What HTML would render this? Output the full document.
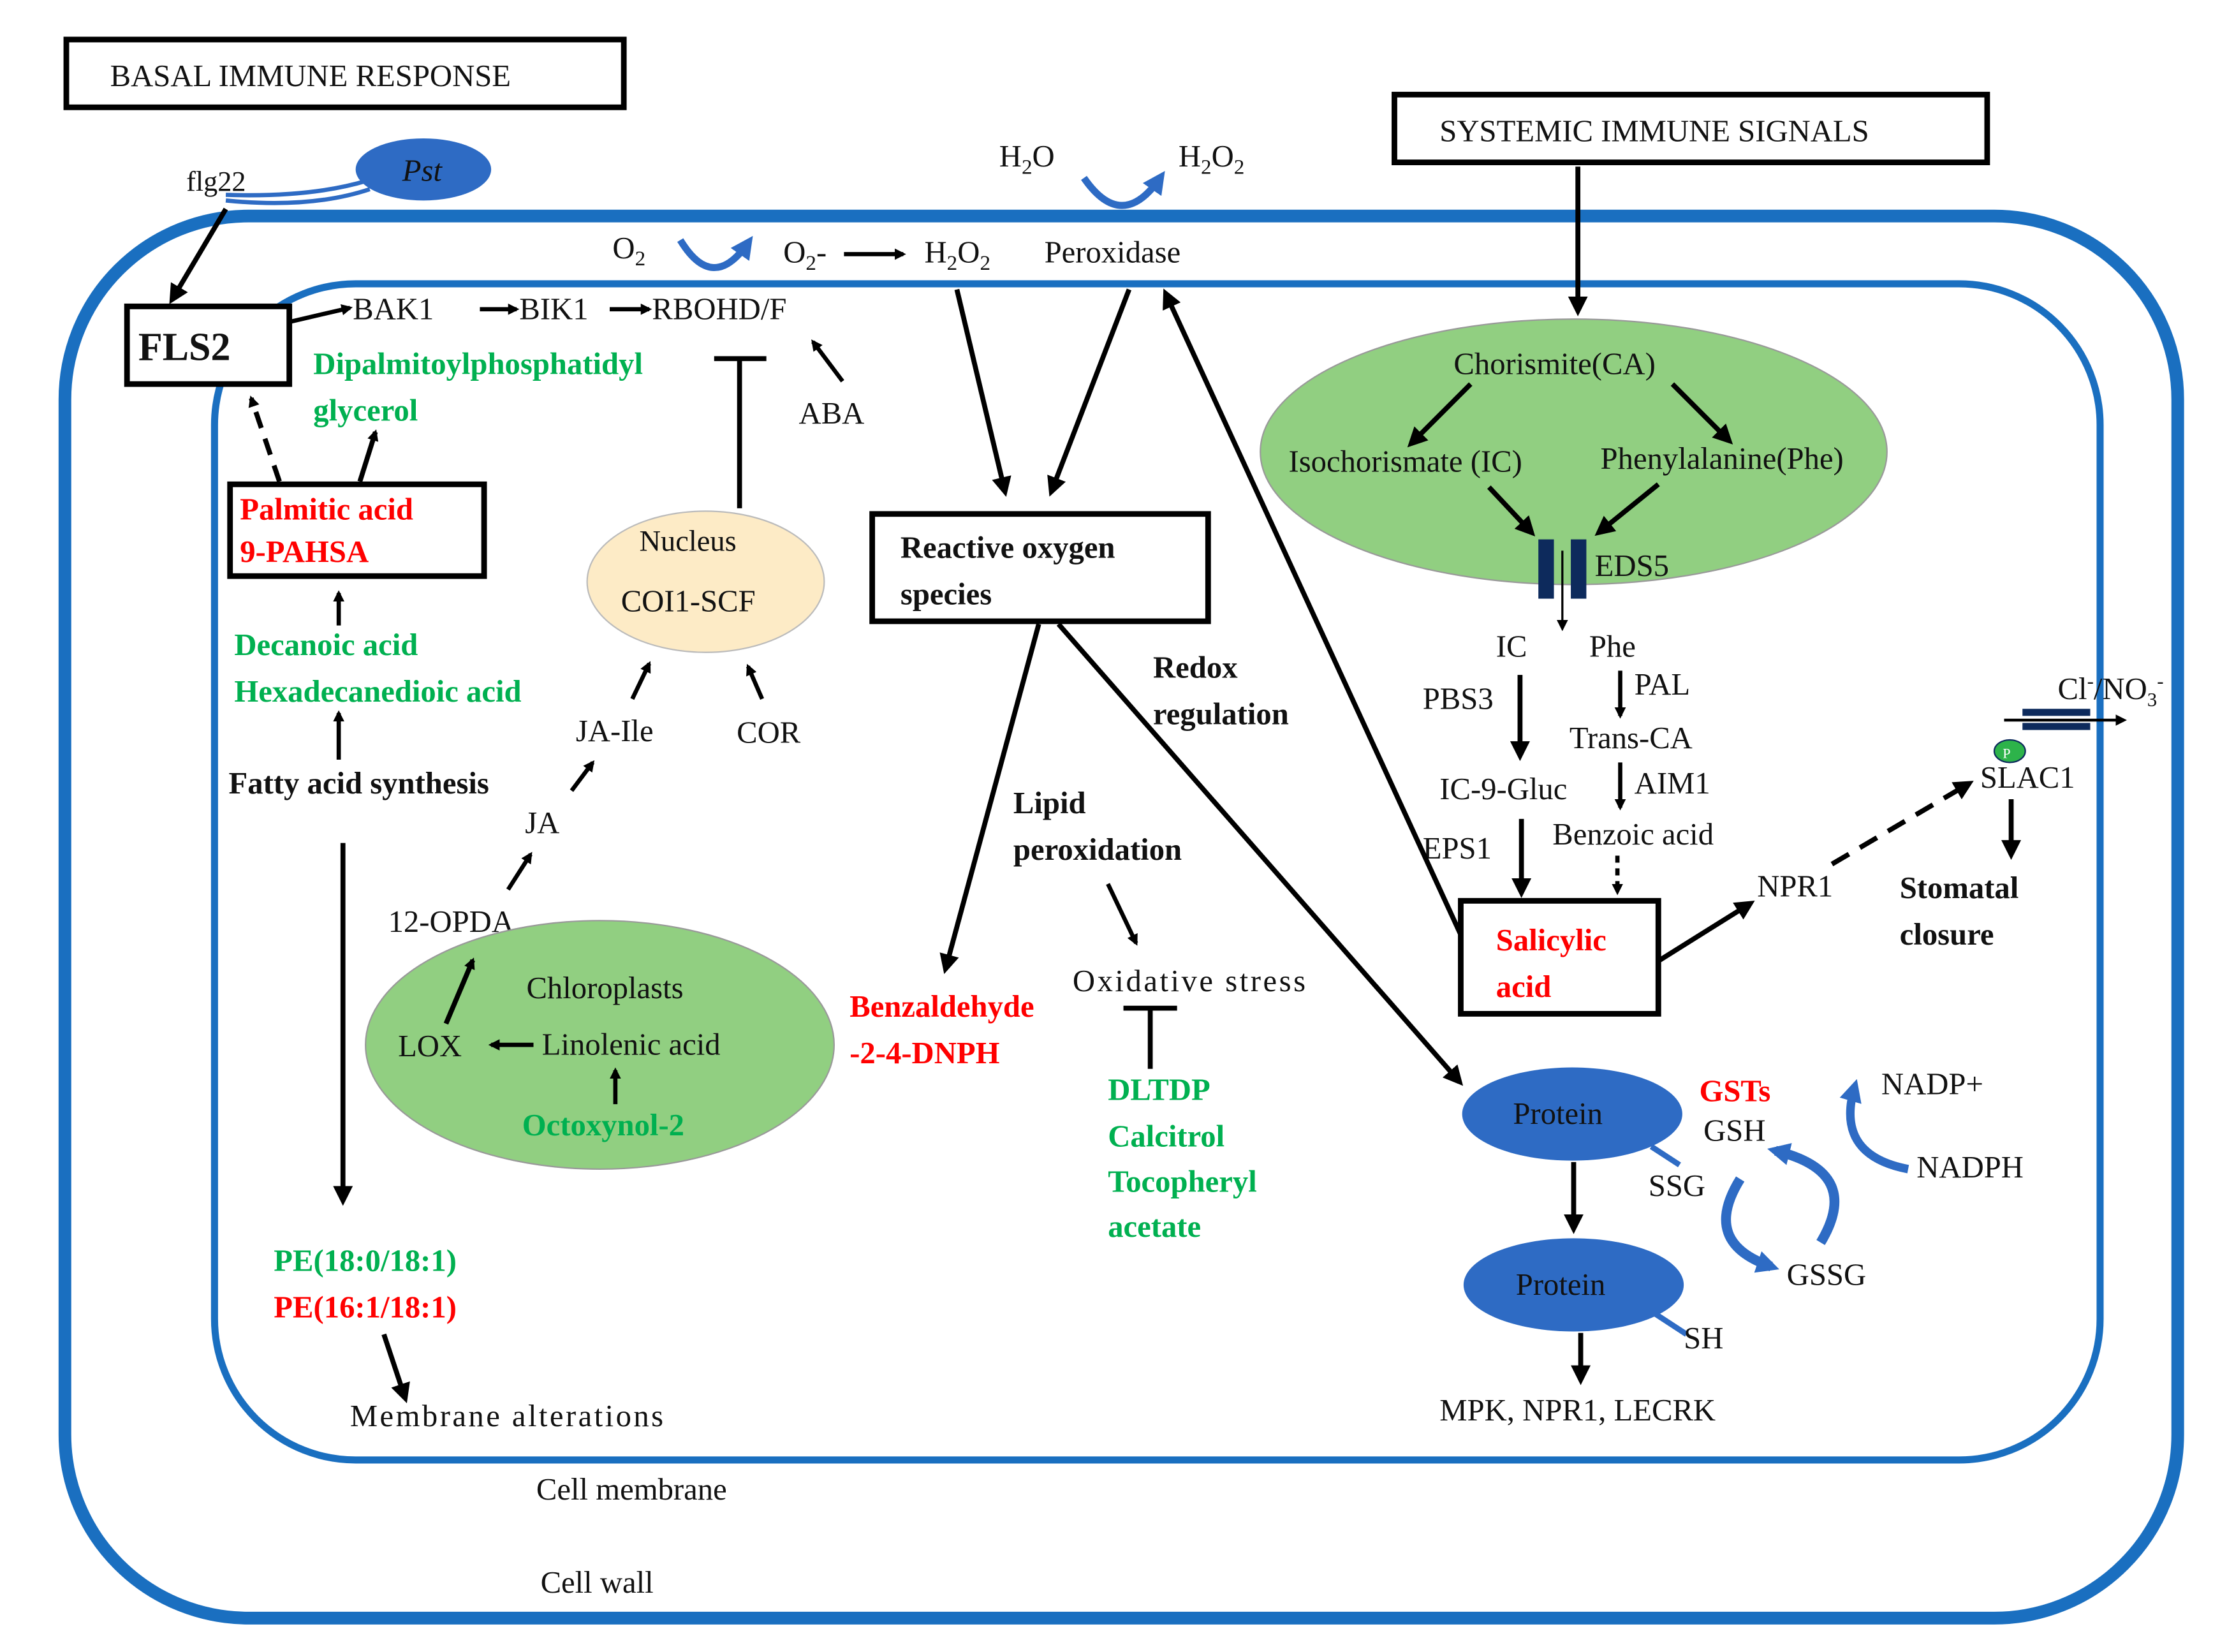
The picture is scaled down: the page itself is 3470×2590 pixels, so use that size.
<!DOCTYPE html>
<html><head><meta charset="utf-8"><style>
html,body{margin:0;padding:0;background:#fff}
svg{display:block}
text{font-family:"Liberation Serif",serif;font-size:22px;fill:#111}
.g{fill:#00b050;font-weight:bold}
.r{fill:#ff0000;font-weight:bold}
.b{font-weight:bold}
</style></head><body>
<svg width="3470" height="2590" viewBox="0 0 1568 1170" preserveAspectRatio="none" xmlns="http://www.w3.org/2000/svg">
<defs>
<marker id="a" markerWidth="8" markerHeight="8" refX="6" refY="4" orient="auto" markerUnits="userSpaceOnUse" viewBox="0 0 8 8"><path d="M0,0 L8,4 L0,8 z" fill="#000"/></marker>
<marker id="ab" markerWidth="14" markerHeight="14" refX="10" refY="7" orient="auto" markerUnits="userSpaceOnUse"><path d="M0,0 L14,7 L0,14 z" fill="#000"/></marker>
<marker id="bb" markerWidth="16" markerHeight="16" refX="10" refY="8" orient="auto" markerUnits="userSpaceOnUse"><path d="M0,0 L16,8 L0,16 z" fill="#2e6bc4"/></marker>
</defs>
<rect x="46" y="153" width="1497" height="993" rx="130" fill="none" stroke="#1a6fc0" stroke-width="9"/>
<rect x="152" y="201" width="1336" height="833" rx="100" fill="none" stroke="#1a6fc0" stroke-width="5"/>
<rect x="47" y="28" width="395" height="48" fill="#fff" stroke="#000" stroke-width="4"/>
<text x="78" y="61">BASAL  IMMUNE RESPONSE</text>
<rect x="988" y="67" width="420" height="48" fill="#fff" stroke="#000" stroke-width="4"/>
<text x="1020" y="100">SYSTEMIC  IMMUNE SIGNALS</text>
<ellipse cx="300" cy="120" rx="48" ry="22" fill="#2e6bc4"/>
<text x="285" y="128" style="font-style:italic">Pst</text>
<path d="M160,138 Q220,140 260,128 M160,142 Q220,148 262,134" stroke="#2e6bc4" stroke-width="3" fill="none"/>
<text x="132" y="135" style="font-size:20px">flg22</text>
<line x1="160" y1="148" x2="122" y2="212" stroke="#000" stroke-width="3.5" marker-end="url(#ab)"/>
<rect x="90" y="217" width="115" height="55" fill="#fff" stroke="#000" stroke-width="4"/>
<text x="98" y="255" class="b" style="font-size:28px">FLS2</text>
<line x1="205" y1="228" x2="248" y2="218" stroke="#000" stroke-width="3" marker-end="url(#a)"/>
<text x="250" y="226">BAK1</text>
<line x1="340" y1="219" x2="366" y2="219" stroke="#000" stroke-width="3" marker-end="url(#a)"/>
<text x="368" y="226">BIK1</text>
<line x1="432" y1="219" x2="460" y2="219" stroke="#000" stroke-width="3" marker-end="url(#a)"/>
<text x="462" y="226">RBOHD/F</text>
<text x="222" y="265" class="g">Dipalmitoylphosphatidyl</text>
<text x="222" y="298" class="g">glycerol</text>
<line x1="524" y1="360" x2="524" y2="254" stroke="#000" stroke-width="3.5"/>
<line x1="506" y1="254" x2="543" y2="254" stroke="#000" stroke-width="3.5"/>
<line x1="597" y1="270" x2="576" y2="242" stroke="#000" stroke-width="3" marker-end="url(#a)"/>
<text x="566" y="300">ABA</text>
<rect x="163" y="343" width="180" height="65" fill="#fff" stroke="#000" stroke-width="4"/>
<text x="170" y="368" class="r">Palmitic  acid</text>
<text x="170" y="398" class="r">9-PAHSA</text>
<line x1="198" y1="341" x2="178" y2="282" stroke="#000" stroke-width="3.5" stroke-dasharray="12,8" marker-end="url(#a)"/>
<line x1="255" y1="341" x2="266" y2="306" stroke="#000" stroke-width="3.5" marker-end="url(#a)"/>
<line x1="240" y1="443" x2="240" y2="420" stroke="#000" stroke-width="3" marker-end="url(#a)"/>
<text x="166" y="464" class="g">Decanoic acid</text>
<text x="166" y="497" class="g">Hexadecanedioic  acid</text>
<line x1="240" y1="538" x2="240" y2="505" stroke="#000" stroke-width="3" marker-end="url(#a)"/>
<text x="162" y="562" class="b">Fatty acid synthesis</text>
<line x1="243" y1="597" x2="243" y2="850" stroke="#000" stroke-width="3.5" marker-end="url(#ab)"/>
<text x="194" y="900" class="g">PE(18:0/18:1)</text>
<text x="194" y="933" class="r">PE(16:1/18:1)</text>
<line x1="272" y1="945" x2="287" y2="990" stroke="#000" stroke-width="3.5" marker-end="url(#ab)"/>
<text x="248" y="1010" textLength="222">Membrane  alterations</text>
<text x="380" y="1062">Cell  membrane</text>
<text x="383" y="1128">Cell  wall</text>
<ellipse cx="500" cy="412" rx="84" ry="50" fill="#fdebc6" stroke="#bbb" stroke-width="1"/>
<text x="453" y="390" style="font-size:21px">Nucleus</text>
<text x="440" y="433">COI1-SCF</text>
<line x1="448" y1="495" x2="460" y2="470" stroke="#000" stroke-width="3" marker-end="url(#a)"/>
<line x1="540" y1="495" x2="530" y2="472" stroke="#000" stroke-width="3" marker-end="url(#a)"/>
<text x="408" y="525">JA-Ile</text>
<text x="522" y="526">COR</text>
<line x1="405" y1="560" x2="420" y2="540" stroke="#000" stroke-width="3" marker-end="url(#a)"/>
<text x="372" y="590">JA</text>
<line x1="360" y1="630" x2="376" y2="605" stroke="#000" stroke-width="3" marker-end="url(#a)"/>
<text x="275" y="660">12-OPDA</text>
<ellipse cx="425" cy="740" rx="166" ry="88" fill="#91cf81" stroke="#999" stroke-width="1"/>
<text x="373" y="707">Chloroplasts</text>
<text x="282" y="748">LOX</text>
<line x1="378" y1="740" x2="348" y2="740" stroke="#000" stroke-width="3" marker-end="url(#a)"/>
<text x="384" y="747">Linolenic  acid</text>
<line x1="436" y1="782" x2="436" y2="758" stroke="#000" stroke-width="3" marker-end="url(#a)"/>
<text x="370" y="804" class="g">Octoxynol-2</text>
<line x1="316" y1="725" x2="335" y2="680" stroke="#000" stroke-width="3.5" marker-end="url(#a)"/>
<text x="708" y="118">H<tspan dy="5" style="font-size:15px">2</tspan><tspan dy="-5">O</tspan></text>
<text x="835" y="118">H<tspan dy="5" style="font-size:15px">2</tspan><tspan dy="-5">O</tspan><tspan dy="5" style="font-size:15px">2</tspan></text>
<path d="M768,126 Q795,165 822,126" stroke="#2e6bc4" stroke-width="5" fill="none" marker-end="url(#bb)"/>
<text x="434" y="183">O<tspan dy="5" style="font-size:15px">2</tspan></text>
<path d="M482,170 Q505,208 530,172" stroke="#2e6bc4" stroke-width="5" fill="none" marker-end="url(#bb)"/>
<text x="555" y="186">O<tspan dy="5" style="font-size:15px">2</tspan><tspan dy="-5">-</tspan></text>
<line x1="598" y1="180" x2="640" y2="180" stroke="#000" stroke-width="3" marker-end="url(#a)"/>
<text x="655" y="186">H<tspan dy="5" style="font-size:15px">2</tspan><tspan dy="-5">O</tspan><tspan dy="5" style="font-size:15px">2</tspan></text>
<text x="740" y="186">Peroxidase</text>
<line x1="678" y1="205" x2="712" y2="348" stroke="#000" stroke-width="3.5" marker-end="url(#ab)"/>
<line x1="800" y1="205" x2="745" y2="348" stroke="#000" stroke-width="3.5" marker-end="url(#ab)"/>
<rect x="618" y="364" width="238" height="76" fill="#fff" stroke="#000" stroke-width="4"/>
<text x="638" y="395" class="b">Reactive oxygen</text>
<text x="638" y="428" class="b">species</text>
<line x1="736" y1="442" x2="670" y2="686" stroke="#000" stroke-width="3.5" marker-end="url(#ab)"/>
<line x1="750" y1="442" x2="1034" y2="766" stroke="#000" stroke-width="3.5" marker-end="url(#ab)"/>
<text x="817" y="480" class="b">Redox</text>
<text x="817" y="513" class="b">regulation</text>
<text x="718" y="576" class="b">Lipid</text>
<text x="718" y="609" class="b">peroxidation</text>
<line x1="785" y1="626" x2="805" y2="668" stroke="#000" stroke-width="3" marker-end="url(#a)"/>
<text x="760" y="702" textLength="165">Oxidative  stress</text>
<line x1="815" y1="757" x2="815" y2="714" stroke="#000" stroke-width="3.5"/>
<line x1="796" y1="714" x2="834" y2="714" stroke="#000" stroke-width="3.5"/>
<text x="602" y="720" class="r">Benzaldehyde</text>
<text x="602" y="753" class="r">-2-4-DNPH</text>
<text x="785" y="779" class="g">DLTDP</text>
<text x="785" y="812" class="g">Calcitrol</text>
<text x="785" y="844" class="g">Tocopheryl</text>
<text x="785" y="876" class="g">acetate</text>
<line x1="1118" y1="118" x2="1118" y2="220" stroke="#000" stroke-width="3.5" marker-end="url(#ab)"/>
<ellipse cx="1115" cy="320" rx="222" ry="94" fill="#91cf81" stroke="#999" stroke-width="1"/>
<text x="1030" y="265">Chorismite(CA)</text>
<text x="913" y="334">Isochorismate  (IC)</text>
<text x="1134" y="332">Phenylalanine(Phe)</text>
<line x1="1042" y1="272" x2="1000" y2="314" stroke="#000" stroke-width="3.5" marker-end="url(#ab)"/>
<line x1="1185" y1="272" x2="1225" y2="312" stroke="#000" stroke-width="3.5" marker-end="url(#ab)"/>
<line x1="1055" y1="345" x2="1085" y2="377" stroke="#000" stroke-width="3.5" marker-end="url(#ab)"/>
<line x1="1175" y1="343" x2="1133" y2="377" stroke="#000" stroke-width="3.5" marker-end="url(#ab)"/>
<rect x="1090" y="382" width="11" height="42" fill="#0d2a5c"/>
<rect x="1113" y="382" width="11" height="42" fill="#0d2a5c"/>
<line x1="1107" y1="390" x2="1107" y2="445" stroke="#000" stroke-width="1.5" marker-end="url(#a)"/>
<text x="1130" y="408">EDS5</text>
<text x="1060" y="465">IC</text>
<text x="1126" y="465">Phe</text>
<text x="1008" y="502">PBS3</text>
<line x1="1077" y1="478" x2="1077" y2="535" stroke="#000" stroke-width="3.5" marker-end="url(#ab)"/>
<line x1="1148" y1="475" x2="1148" y2="507" stroke="#000" stroke-width="3" marker-end="url(#a)"/>
<text x="1158" y="492">PAL</text>
<text x="1112" y="530">Trans-CA</text>
<line x1="1148" y1="540" x2="1148" y2="572" stroke="#000" stroke-width="3" marker-end="url(#a)"/>
<text x="1158" y="562">AIM1</text>
<text x="1020" y="566">IC-9-Gluc</text>
<text x="1100" y="598">Benzoic  acid</text>
<text x="1008" y="608">EPS1</text>
<line x1="1078" y1="580" x2="1078" y2="632" stroke="#000" stroke-width="3.5" marker-end="url(#ab)"/>
<line x1="1146" y1="606" x2="1146" y2="632" stroke="#000" stroke-width="3" stroke-dasharray="5,4" marker-end="url(#a)"/>
<rect x="1035" y="638" width="140" height="80" fill="#fff" stroke="#000" stroke-width="4"/>
<text x="1060" y="673" class="r">Salicylic</text>
<text x="1060" y="706" class="r">acid</text>
<line x1="1035" y1="662" x2="826" y2="208" stroke="#000" stroke-width="3.5" marker-end="url(#ab)"/>
<line x1="1176" y1="680" x2="1240" y2="640" stroke="#000" stroke-width="3.5" marker-end="url(#ab)"/>
<text x="1245" y="635">NPR1</text>
<line x1="1298" y1="612" x2="1395" y2="555" stroke="#000" stroke-width="3.5" stroke-dasharray="14,9" marker-end="url(#ab)"/>
<rect x="1433" y="502" width="48" height="5" fill="#0d2a5c"/>
<rect x="1433" y="512" width="48" height="5" fill="#0d2a5c"/>
<line x1="1420" y1="510" x2="1505" y2="510" stroke="#000" stroke-width="2" marker-end="url(#a)"/>
<text x="1458" y="495">Cl<tspan dy="-8" style="font-size:14px">-</tspan><tspan dy="8">/NO</tspan><tspan dy="5" style="font-size:14px">3</tspan><tspan dy="-13" style="font-size:14px">-</tspan></text>
<ellipse cx="1424" cy="532" rx="11" ry="8" fill="#2db34a" stroke="#0d2a5c" stroke-width="1"/>
<text x="1419" y="537" style="font-size:10px;fill:#fff">P</text>
<text x="1403" y="558">SLAC1</text>
<line x1="1425" y1="566" x2="1425" y2="605" stroke="#000" stroke-width="3.5" marker-end="url(#ab)"/>
<text x="1346" y="636" class="b">Stomatal</text>
<text x="1346" y="669" class="b">closure</text>
<ellipse cx="1114" cy="789" rx="78" ry="33" fill="#2e6bc4"/>
<text x="1072" y="796">Protein</text>
<line x1="1170" y1="812" x2="1190" y2="825" stroke="#2e6bc4" stroke-width="4"/>
<text x="1168" y="847">SSG</text>
<line x1="1115" y1="823" x2="1115" y2="870" stroke="#000" stroke-width="3.5" marker-end="url(#ab)"/>
<ellipse cx="1115" cy="910" rx="78" ry="33" fill="#2e6bc4"/>
<text x="1074" y="917">Protein</text>
<line x1="1172" y1="930" x2="1195" y2="945" stroke="#2e6bc4" stroke-width="4"/>
<text x="1193" y="955">SH</text>
<line x1="1120" y1="944" x2="1120" y2="977" stroke="#000" stroke-width="3.5" marker-end="url(#ab)"/>
<text x="1020" y="1006">MPK, NPR1, LECRK</text>
<text x="1204" y="780" class="r">GSTs</text>
<text x="1207" y="808">GSH</text>
<path d="M1290,880 Q1320,830 1258,815" stroke="#2e6bc4" stroke-width="7" fill="none" marker-end="url(#bb)"/>
<path d="M1233,835 Q1205,880 1255,897" stroke="#2e6bc4" stroke-width="7" fill="none" marker-end="url(#bb)"/>
<text x="1266" y="910">GSSG</text>
<path d="M1352,828 Q1300,818 1314,770" stroke="#2e6bc4" stroke-width="6" fill="none" marker-end="url(#bb)"/>
<text x="1333" y="775">NADP+</text>
<text x="1358" y="834">NADPH</text>
</svg>
</body></html>
